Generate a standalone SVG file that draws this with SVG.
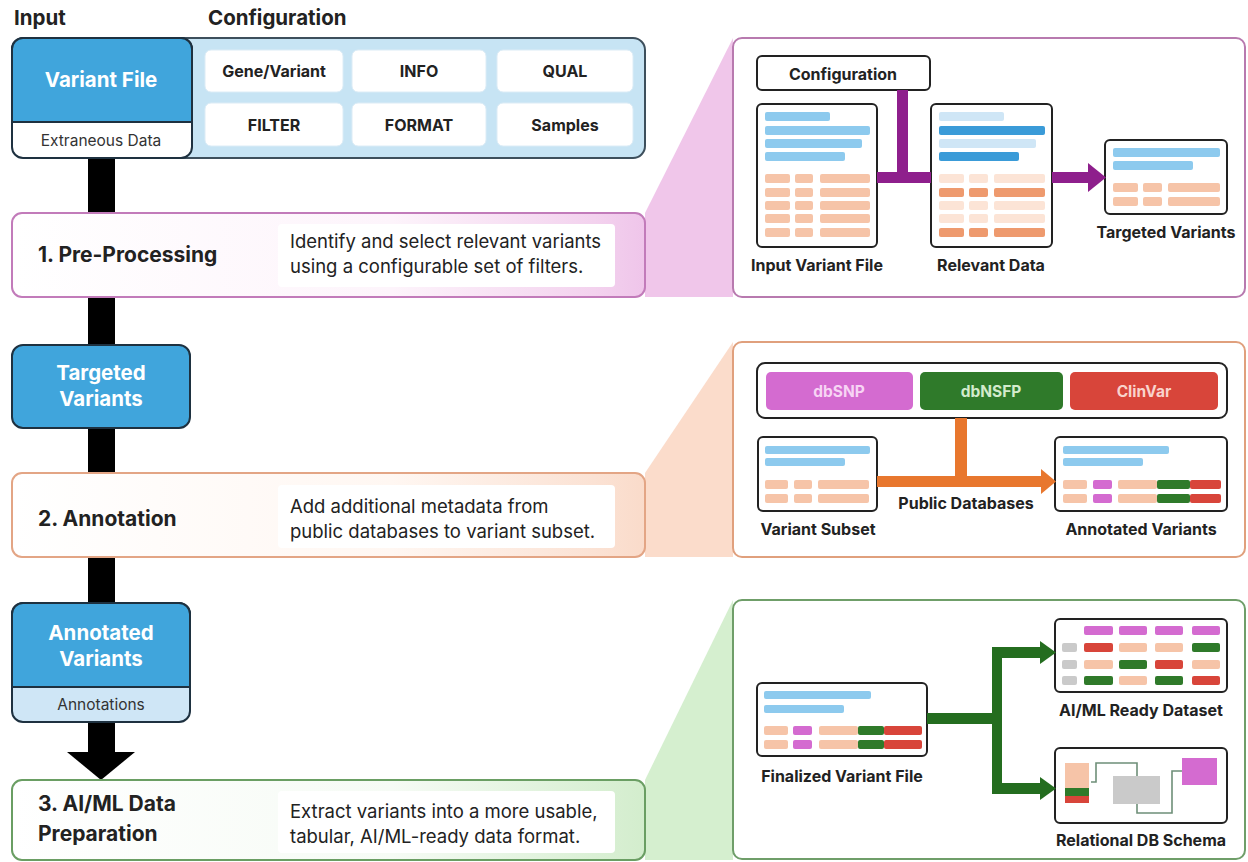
<svg xmlns="http://www.w3.org/2000/svg" width="1248" height="862" viewBox="0 0 1248 862">
<defs>
<linearGradient id="gPink" x1="0" y1="0" x2="1" y2="0"><stop offset="0" stop-color="#ffffff"/><stop offset="0.6" stop-color="#fdf4fb"/><stop offset="0.92" stop-color="#f3d2ee"/><stop offset="1" stop-color="#efc5ea"/></linearGradient>
<linearGradient id="gPeach" x1="0" y1="0" x2="1" y2="0"><stop offset="0" stop-color="#ffffff"/><stop offset="0.6" stop-color="#fff7f2"/><stop offset="0.92" stop-color="#fbe2d4"/><stop offset="1" stop-color="#fadbca"/></linearGradient>
<linearGradient id="gGreen" x1="0" y1="0" x2="1" y2="0"><stop offset="0" stop-color="#ffffff"/><stop offset="0.6" stop-color="#f6fbf5"/><stop offset="0.92" stop-color="#daf0d5"/><stop offset="1" stop-color="#d3edcd"/></linearGradient>
<style>
text{font-family:Inter,"Liberation Sans",sans-serif;fill:#222}
.h{font-size:20.5px;font-weight:700}
.title{font-size:21px;font-weight:700}
.desc{font-size:18.5px}
.cell{font-size:16px;font-weight:700;text-anchor:middle}
.lbl{font-size:16px;font-weight:700;text-anchor:middle}
.db{font-size:15.5px;font-weight:700;text-anchor:middle}
.wt{font-size:20.5px;font-weight:700;fill:#fff;text-anchor:middle}
.sm{font-size:15.5px;text-anchor:middle;fill:#333}
.node{fill:#40a5dc;stroke:#1e3140;stroke-width:2}
.doc{fill:#fff;stroke:#222;stroke-width:2}
.inner{fill:#fff}
.b{fill:#8dcaee}.bw{fill:#cfe6f6}.bs{fill:#3a9bd8}
.p{fill:#f6c4a8}.pw{fill:#fce4d6}.ps{fill:#ee9a6e}
.pu{fill:#d46bd0}.gr{fill:#2f7a2a}.rd{fill:#d8453a}.gy{fill:#cacaca}
.cellbox{fill:#fff;stroke:#dcecf6;stroke-width:1}
</style>
</defs>

<!-- wedges -->
<g id="wedges">
<polygon points="645,213 733,38 733,297 645,297" fill="#f0c6ea"/>
<polygon points="645,473 733,342 733,557 645,557" fill="#fbdccb"/>
<polygon points="645,780 733,600 733,860 645,860" fill="#d5efcf"/>
</g>

<g id="spine">
<rect x="88" y="158" width="27" height="594" fill="#000"/>
<polygon points="67,752 135,752 101,780" fill="#000"/>
</g>

<text class="h" x="14" y="25">Input</text>
<text class="h" x="208" y="25">Configuration</text>

<g id="config">
<path d="M180,38 H633 A12,12 0 0 1 645,50 V146 A12,12 0 0 1 633,158 H180 Z" fill="#c7e4f4" stroke="#3d4f5c" stroke-width="2"/>
<rect class="cellbox" x="205" y="50" width="138" height="42" rx="6"/>
<rect class="cellbox" x="352" y="50" width="134" height="42" rx="6"/>
<rect class="cellbox" x="497" y="50" width="136" height="42" rx="6"/>
<rect class="cellbox" x="205" y="103" width="138" height="43" rx="6"/>
<rect class="cellbox" x="352" y="103" width="134" height="43" rx="6"/>
<rect class="cellbox" x="497" y="103" width="136" height="43" rx="6"/>
<text class="cell" x="274" y="77">Gene/Variant</text>
<text class="cell" x="419" y="77">INFO</text>
<text class="cell" x="565" y="77">QUAL</text>
<text class="cell" x="274" y="131">FILTER</text>
<text class="cell" x="419" y="131">FORMAT</text>
<text class="cell" x="565" y="131">Samples</text>
</g>

<g id="variant-file">
<rect x="12" y="38" width="180" height="120" rx="11" fill="#fff" stroke="#1e3140" stroke-width="2"/>
<path d="M12,49 A11,11 0 0 1 23,38 H181 A11,11 0 0 1 192,49 V122 H12 Z" class="node"/>
<text class="wt" x="101" y="87">Variant File</text>
<text class="sm" x="101" y="146">Extraneous Data</text>
</g>

<g id="step1">
<rect x="12" y="213" width="633" height="84" rx="10" fill="url(#gPink)" stroke="#c27bba" stroke-width="2"/>
<rect class="inner" x="278" y="224" width="337" height="63" rx="4"/>
<text class="title" x="38" y="262">1. Pre-Processing</text>
<text class="desc" x="290" y="248">Identify and select relevant variants</text>
<text class="desc" x="290" y="273">using a configurable set of filters.</text>
</g>

<g id="panel1">
<rect x="733" y="38" width="512" height="259" rx="9" fill="#fff" stroke="#b87aaf" stroke-width="2"/>
<rect x="757" y="56" width="173" height="34" rx="5" class="doc"/>
<text class="lbl" x="843" y="80">Configuration</text>
<rect class="doc" x="757" y="104" width="120" height="143" rx="5"/>
<rect class="b" x="765" y="112" width="65" height="9" rx="2"/>
<rect class="b" x="765" y="126" width="105" height="9" rx="2"/>
<rect class="b" x="765" y="139" width="97" height="9" rx="2"/>
<rect class="b" x="765" y="152" width="80" height="9" rx="2"/>
<g class="p">
<rect x="765" y="174" width="25" height="9" rx="2"/><rect x="795" y="174" width="18" height="9" rx="2"/><rect x="820" y="174" width="50" height="9" rx="2"/>
<rect x="765" y="188" width="25" height="9" rx="2"/><rect x="795" y="188" width="18" height="9" rx="2"/><rect x="820" y="188" width="50" height="9" rx="2"/>
<rect x="765" y="201" width="25" height="9" rx="2"/><rect x="795" y="201" width="18" height="9" rx="2"/><rect x="820" y="201" width="50" height="9" rx="2"/>
<rect x="765" y="214" width="25" height="9" rx="2"/><rect x="795" y="214" width="18" height="9" rx="2"/><rect x="820" y="214" width="50" height="9" rx="2"/>
<rect x="765" y="228" width="25" height="9" rx="2"/><rect x="795" y="228" width="18" height="9" rx="2"/><rect x="820" y="228" width="50" height="9" rx="2"/>
</g>
<rect class="doc" x="931" y="104" width="121" height="143" rx="5"/>
<rect class="bw" x="939" y="112" width="65" height="9" rx="2"/>
<rect class="bs" x="939" y="126" width="106" height="9" rx="2"/>
<rect class="bw" x="939" y="139" width="97" height="9" rx="2"/>
<rect class="bs" x="939" y="152" width="80" height="9" rx="2"/>
<g class="pw">
<rect x="939" y="174" width="25" height="9" rx="2"/><rect x="969" y="174" width="19" height="9" rx="2"/><rect x="994" y="174" width="51" height="9" rx="2"/>
<rect x="939" y="201" width="25" height="9" rx="2"/><rect x="969" y="201" width="19" height="9" rx="2"/><rect x="994" y="201" width="51" height="9" rx="2"/>
<rect x="939" y="214" width="25" height="9" rx="2"/><rect x="969" y="214" width="19" height="9" rx="2"/><rect x="994" y="214" width="51" height="9" rx="2"/>
</g>
<g class="ps">
<rect x="939" y="188" width="25" height="9" rx="2"/><rect x="969" y="188" width="19" height="9" rx="2"/><rect x="994" y="188" width="51" height="9" rx="2"/>
<rect x="939" y="228" width="25" height="9" rx="2"/><rect x="969" y="228" width="19" height="9" rx="2"/><rect x="994" y="228" width="51" height="9" rx="2"/>
</g>
<rect class="doc" x="1105" y="140" width="122" height="74" rx="5"/>
<rect class="b" x="1113" y="148" width="107" height="9" rx="2"/>
<rect class="b" x="1113" y="161" width="80" height="9" rx="2"/>
<g class="p">
<rect x="1113" y="183" width="25" height="9" rx="2"/><rect x="1143" y="183" width="19" height="9" rx="2"/><rect x="1168" y="183" width="52" height="9" rx="2"/>
<rect x="1113" y="197" width="25" height="9" rx="2"/><rect x="1143" y="197" width="19" height="9" rx="2"/><rect x="1168" y="197" width="52" height="9" rx="2"/>
</g>
<text class="lbl" x="817" y="271">Input Variant File</text>
<text class="lbl" x="991" y="271">Relevant Data</text>
<text class="lbl" x="1166" y="238">Targeted Variants</text>
</g>

<g id="targeted-variants">
<rect class="node" x="12" y="345" width="178" height="83" rx="11"/>
<text class="wt" x="101" y="380">Targeted</text>
<text class="wt" x="101" y="406">Variants</text>
</g>

<g id="step2">
<rect x="12" y="473" width="633" height="84" rx="10" fill="url(#gPeach)" stroke="#e3a585" stroke-width="2"/>
<rect class="inner" x="278" y="485" width="337" height="63" rx="4"/>
<text class="title" x="38" y="526">2. Annotation</text>
<text class="desc" x="290" y="513">Add additional metadata from</text>
<text class="desc" x="290" y="538">public databases to variant subset.</text>
</g>

<g id="panel2">
<rect x="733" y="342" width="512" height="215" rx="9" fill="#fff" stroke="#e0a07d" stroke-width="2"/>
<rect class="doc" x="757" y="363" width="470" height="55" rx="8"/>
<rect class="pu" x="766" y="372" width="147" height="38" rx="5"/>
<rect class="gr" x="920" y="372" width="143" height="38" rx="5"/>
<rect class="rd" x="1070" y="372" width="148" height="38" rx="5"/>
<text class="db" x="839" y="397" style="fill:#f7d4f4">dbSNP</text>
<text class="db" x="991" y="397" style="fill:#d3ebcc">dbNSFP</text>
<text class="db" x="1144" y="397" style="fill:#f9d3cc">ClinVar</text>
<rect class="doc" x="758" y="437" width="119" height="74" rx="5"/>
<rect class="b" x="765" y="446" width="105" height="8" rx="2"/>
<rect class="b" x="765" y="458" width="80" height="8" rx="2"/>
<g class="p">
<rect x="765" y="480" width="23" height="9" rx="2"/><rect x="794" y="480" width="18" height="9" rx="2"/><rect x="818" y="480" width="51" height="9" rx="2"/>
<rect x="765" y="494" width="23" height="9" rx="2"/><rect x="794" y="494" width="18" height="9" rx="2"/><rect x="818" y="494" width="51" height="9" rx="2"/>
</g>
<rect class="doc" x="1055" y="437" width="172" height="74" rx="5"/>
<rect class="b" x="1063" y="446" width="106" height="8" rx="2"/>
<rect class="b" x="1063" y="458" width="80" height="8" rx="2"/>
<rect class="p" x="1063" y="480" width="24" height="9" rx="2"/><rect class="pu" x="1093" y="480" width="19" height="9" rx="2"/><rect class="p" x="1118" y="480" width="39" height="9" rx="2"/><rect class="gr" x="1157" y="480" width="33" height="9" rx="2"/><rect class="rd" x="1190" y="480" width="31" height="9" rx="2"/>
<rect class="p" x="1063" y="494" width="24" height="9" rx="2"/><rect class="pu" x="1093" y="494" width="19" height="9" rx="2"/><rect class="p" x="1118" y="494" width="39" height="9" rx="2"/><rect class="gr" x="1157" y="494" width="33" height="9" rx="2"/><rect class="rd" x="1190" y="494" width="31" height="9" rx="2"/>
<text class="lbl" x="966" y="509">Public Databases</text>
<text class="lbl" x="818" y="535">Variant Subset</text>
<text class="lbl" x="1141" y="535">Annotated Variants</text>
</g>

<g id="annotated-variants">
<rect x="12" y="603" width="178" height="119" rx="11" fill="#cfe6f6" stroke="#1e3140" stroke-width="2"/>
<path d="M12,614 A11,11 0 0 1 23,603 H179 A11,11 0 0 1 190,614 V687 H12 Z" class="node"/>
<text class="wt" x="101" y="640">Annotated</text>
<text class="wt" x="101" y="666">Variants</text>
<text class="sm" x="101" y="710">Annotations</text>
</g>

<g id="step3">
<rect x="12" y="780" width="633" height="80" rx="10" fill="url(#gGreen)" stroke="#6a9e63" stroke-width="2"/>
<rect class="inner" x="278" y="791" width="337" height="62" rx="4"/>
<text class="title" x="38" y="811">3. AI/ML Data</text>
<text class="title" x="38" y="841">Preparation</text>
<text class="desc" x="290" y="818">Extract variants into a more usable,</text>
<text class="desc" x="290" y="843">tabular, AI/ML-ready data format.</text>
</g>

<g id="panel3">
<rect x="733" y="600" width="512" height="259" rx="9" fill="#fff" stroke="#6f9e69" stroke-width="2"/>
<rect class="doc" x="757" y="683" width="170" height="73" rx="5"/>
<rect class="b" x="764" y="691" width="107" height="8" rx="2"/>
<rect class="b" x="764" y="705" width="80" height="8" rx="2"/>
<rect class="p" x="764" y="726" width="24" height="9" rx="2"/><rect class="pu" x="793" y="726" width="19" height="9" rx="2"/><rect class="p" x="819" y="726" width="39" height="9" rx="2"/><rect class="gr" x="858" y="726" width="26" height="9" rx="2"/><rect class="rd" x="884" y="726" width="38" height="9" rx="2"/>
<rect class="p" x="764" y="740" width="24" height="9" rx="2"/><rect class="pu" x="793" y="740" width="19" height="9" rx="2"/><rect class="p" x="819" y="740" width="39" height="9" rx="2"/><rect class="gr" x="858" y="740" width="26" height="9" rx="2"/><rect class="rd" x="884" y="740" width="38" height="9" rx="2"/>
<text class="lbl" x="842" y="782">Finalized Variant File</text>

<rect class="doc" x="1055" y="619" width="172" height="73" rx="5"/>
<rect class="pu" x="1084" y="626" width="29" height="9" rx="2"/><rect class="pu" x="1119" y="626" width="28" height="9" rx="2"/><rect class="pu" x="1155" y="626" width="28" height="9" rx="2"/><rect class="pu" x="1192" y="626" width="28" height="9" rx="2"/>
<rect class="gy" x="1062" y="643" width="15" height="9" rx="2"/><rect class="rd" x="1084" y="643" width="29" height="9" rx="2"/><rect class="p" x="1119" y="643" width="28" height="9" rx="2"/><rect class="p" x="1155" y="643" width="28" height="9" rx="2"/><rect class="gr" x="1192" y="643" width="28" height="9" rx="2"/>
<rect class="gy" x="1062" y="660" width="15" height="9" rx="2"/><rect class="p" x="1084" y="660" width="29" height="9" rx="2"/><rect class="gr" x="1119" y="660" width="28" height="9" rx="2"/><rect class="rd" x="1155" y="660" width="28" height="9" rx="2"/><rect class="p" x="1192" y="660" width="28" height="9" rx="2"/>
<rect class="gy" x="1062" y="676" width="15" height="9" rx="2"/><rect class="gr" x="1084" y="676" width="29" height="9" rx="2"/><rect class="p" x="1119" y="676" width="28" height="9" rx="2"/><rect class="gr" x="1155" y="676" width="28" height="9" rx="2"/><rect class="rd" x="1192" y="676" width="28" height="9" rx="2"/>
<text class="lbl" x="1141" y="716">AI/ML Ready Dataset</text>

<rect class="doc" x="1055" y="748" width="172" height="75" rx="5"/>
<rect class="p" x="1065" y="763" width="24" height="25"/>
<rect class="gr" x="1065" y="788" width="24" height="8"/>
<rect class="rd" x="1065" y="796" width="24" height="7"/>
<rect class="gy" x="1113" y="776" width="47" height="28"/>
<rect class="pu" x="1182" y="758" width="35" height="27"/>
<path d="M1091,782 H1096 V763 H1137 V776 M1137,804 V813 H1172 V771 H1182" fill="none" stroke="#6e8f78" stroke-width="1.6"/>
<text class="lbl" x="1141" y="846">Relational DB Schema</text>
</g>

<!-- connectors -->
<g id="connectors">
<!-- purple -->
<rect x="897" y="90" width="11" height="93" fill="#8e1f8c"/>
<rect x="877" y="172" width="54" height="11" fill="#8e1f8c"/>
<rect x="1052" y="172" width="38" height="11" fill="#8e1f8c"/>
<polygon points="1088,163 1106,177.5 1088,192" fill="#8e1f8c"/>
<!-- orange -->
<rect x="955" y="418" width="12" height="69" fill="#e8772e"/>
<rect x="877" y="476" width="166" height="11" fill="#e8772e"/>
<polygon points="1041,469 1056,481.5 1041,494" fill="#e8772e"/>
<!-- green -->
<rect x="927" y="713" width="75" height="11" fill="#246d1f"/>
<rect x="992" y="647" width="10" height="147" fill="#246d1f"/>
<rect x="992" y="647" width="50" height="11" fill="#246d1f"/>
<polygon points="1040,641 1056,652.5 1040,664" fill="#246d1f"/>
<rect x="992" y="783" width="50" height="11" fill="#246d1f"/>
<polygon points="1040,777 1056,788.5 1040,800" fill="#246d1f"/>
</g>
</svg>
